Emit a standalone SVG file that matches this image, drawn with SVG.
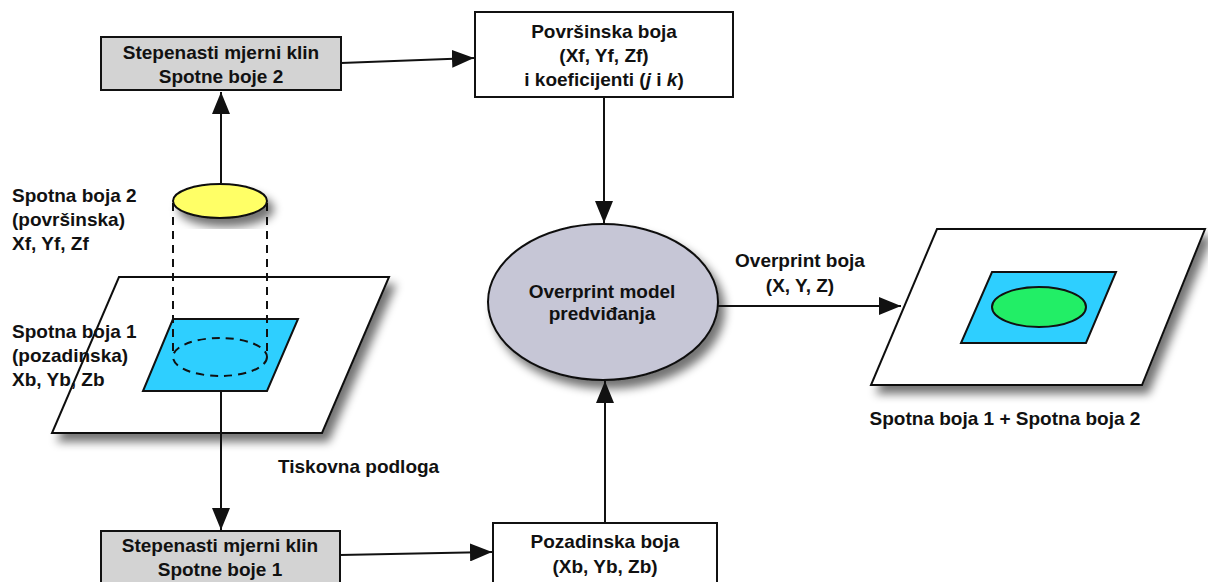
<svg xmlns="http://www.w3.org/2000/svg" width="1208" height="582" viewBox="0 0 1208 582">
<defs>
<style>
text{font-family:"Liberation Sans",Arial,sans-serif;font-weight:bold;font-size:19px;fill:#111}
.c{text-anchor:middle}
.box{stroke:#111;stroke-width:2}
.gray{fill:#d3d3d3}
.white{fill:#fff}
.ln{stroke:#111;stroke-width:2;fill:none}
.dash{stroke:#111;stroke-width:2;fill:none;stroke-dasharray:8 6}
.sh{filter:url(#shadow)}
</style>
<filter id="shadow" x="-20%" y="-20%" width="150%" height="150%">
<feGaussianBlur in="SourceAlpha" stdDeviation="5"/>
<feOffset dx="6" dy="8" result="b"/>
<feComponentTransfer><feFuncA type="linear" slope="0.55"/></feComponentTransfer>
<feMerge><feMergeNode/><feMergeNode in="SourceGraphic"/></feMerge>
</filter>
<marker id="ah" viewBox="0 0 22 18" refX="22" refY="9" markerWidth="22" markerHeight="18" markerUnits="userSpaceOnUse" orient="auto">
<path d="M0,0 L22,9 L0,18 Z" fill="#111"/>
</marker>
</defs>
<rect width="1208" height="582" fill="#fff"/>

<g id="substrate-left">
<polygon class="sh" points="119,277 389,277 322,433 52,433" fill="#fff" stroke="#111" stroke-width="2"/>
<polygon points="173,319 298,319 267,391 143,391" fill="#2ecfff" stroke="#111" stroke-width="2"/>
<ellipse class="dash" cx="220" cy="357" rx="47" ry="19"/>
</g>

<g id="spot2-ellipse">
<line class="dash" x1="173" y1="203" x2="173" y2="357"/>
<line class="dash" x1="267" y1="203" x2="267" y2="357"/>
<ellipse class="sh" cx="220" cy="201" rx="47" ry="17" fill="#ffff66" stroke="#111" stroke-width="2"/>
</g>

<g id="labels-left">
<text x="12" y="202">Spotna boja 2</text>
<text x="12" y="226">(površinska)</text>
<text x="12" y="250">Xf, Yf, Zf</text>
<text x="12" y="338">Spotna boja 1</text>
<text x="12" y="362">(pozadinska)</text>
<text x="12" y="386">Xb, Yb, Zb</text>
<text x="278" y="473">Tiskovna podloga</text>
</g>

<g id="wedge2">
<rect class="box gray" x="101" y="37" width="240" height="53"/>
<text class="c" x="221" y="59">Stepenasti mjerni klin</text>
<text class="c" x="221" y="83">Spotne boje 2</text>
</g>

<g id="wedge1">
<rect class="box gray" x="101" y="531" width="239" height="60"/>
<text class="c" x="220" y="552">Stepenasti mjerni klin</text>
<text class="c" x="220" y="576">Spotne boje 1</text>
</g>

<g id="surface-color">
<rect class="box white" x="475" y="12" width="258" height="85"/>
<text class="c" x="604" y="38">Površinska boja</text>
<text class="c" x="604" y="62">(Xf, Yf, Zf)</text>
<text class="c" x="604" y="86">i koeficijenti (<tspan font-style="italic">j</tspan> i <tspan font-style="italic">k</tspan>)</text>
</g>

<g id="background-color">
<rect class="box white" x="493" y="523" width="224" height="68"/>
<text class="c" x="605" y="548">Pozadinska boja</text>
<text class="c" x="605" y="573">(Xb, Yb, Zb)</text>
</g>

<g id="model">
<ellipse class="sh" cx="603" cy="302" rx="115" ry="78" fill="#c6c6d6" stroke="#111" stroke-width="2"/>
<text class="c" x="602" y="298">Overprint model</text>
<text class="c" x="602" y="320">predviđanja</text>
</g>

<g id="result">
<polygon class="sh" points="937,229 1205,229 1142,385 871,385" fill="#fff" stroke="#111" stroke-width="2"/>
<polygon points="992,272 1116,272 1086,343 961,343" fill="#2ecfff" stroke="#111" stroke-width="2"/>
<ellipse cx="1039" cy="307" rx="47" ry="20" fill="#22ee66" stroke="#111" stroke-width="2"/>
<text class="c" x="1005" y="425">Spotna boja 1 + Spotna boja 2</text>
</g>

<g id="connectors">
<line class="ln" x1="221" y1="183" x2="221" y2="92" marker-end="url(#ah)"/>
<line class="ln" x1="221" y1="391" x2="221" y2="530" marker-end="url(#ah)"/>
<line class="ln" x1="341" y1="63" x2="474" y2="58" marker-end="url(#ah)"/>
<line class="ln" x1="340" y1="555" x2="492" y2="552" marker-end="url(#ah)"/>
<line class="ln" x1="604" y1="97" x2="604" y2="223" marker-end="url(#ah)"/>
<line class="ln" x1="605" y1="523" x2="605" y2="381" marker-end="url(#ah)"/>
<line class="ln" x1="718" y1="306" x2="901" y2="306" marker-end="url(#ah)"/>
<text class="c" x="800" y="267">Overprint boja</text>
<text class="c" x="800" y="292">(X, Y, Z)</text>
</g>
</svg>
